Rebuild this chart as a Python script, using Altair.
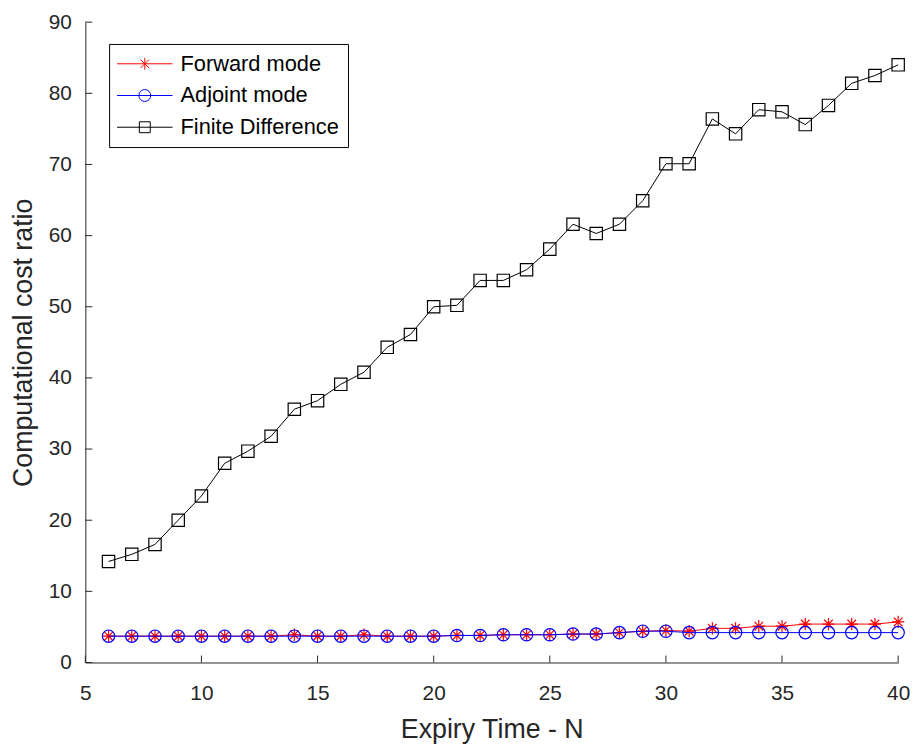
import altair as alt
import pandas as pd

# ---- data ----
N = list(range(6, 41))
forward = [3.7, 3.7, 3.7, 3.7, 3.7, 3.7, 3.7, 3.7, 3.9, 3.7,
           3.7, 3.9, 3.7, 3.7, 3.7, 3.8, 3.8, 3.9, 3.9, 3.9,
           4.0, 4.0, 4.2, 4.4, 4.5, 4.4, 4.8, 4.8, 5.1, 5.1,
           5.4, 5.4, 5.4, 5.4, 5.7]
adjoint = [3.7, 3.7, 3.7, 3.7, 3.7, 3.7, 3.7, 3.7, 3.7, 3.7,
           3.7, 3.7, 3.7, 3.7, 3.7, 3.8, 3.8, 3.9, 3.9, 3.9,
           4.0, 4.0, 4.2, 4.4, 4.4, 4.2, 4.2, 4.2, 4.2, 4.2,
           4.2, 4.2, 4.2, 4.2, 4.2]
finite = [14.2, 15.2, 16.6, 20.0, 23.4, 28.0, 29.7, 31.8, 35.6, 36.8,
          39.1, 40.8, 44.3, 46.1, 50.0, 50.2, 53.7, 53.7, 55.2, 58.1,
          61.6, 60.3, 61.6, 64.9, 70.1, 70.1, 76.4, 74.3, 77.7, 77.4,
          75.6, 78.3, 81.4, 82.5, 84.0]
series_names = ["Forward mode", "Adjoint mode", "Finite Difference"]
series_colors = ["#FF0000", "#0000FF", "#000000"]
x_ticks = [5, 10, 15, 20, 25, 30, 35, 40]
y_ticks = [0, 10, 20, 30, 40, 50, 60, 70, 80, 90]

rows = []
for name, vals in zip(series_names, [forward, adjoint, finite]):
    for n, v in zip(N, vals):
        rows.append({"N": n, "ratio": v, "series": name})
df = pd.DataFrame(rows)
xtick_df = pd.DataFrame({"N": x_ticks})
ytick_df = pd.DataFrame({"ratio": y_ticks})

# ---- style ----
W, H = 820, 646
AX = "#262626"
FONT = "Liberation Sans"

asterisk = "M-1,0L1,0M0,-1L0,1M-0.7,-0.7L0.7,0.7M-0.7,0.7L0.7,-0.7"
legend_paths = [
    "M-2.8,0L2.8,0M0,-0.6L0,0.6M-0.42,-0.42L0.42,0.42M-0.42,0.42L0.42,-0.42",
    "M-2.8,0L2.8,0M0.6,0A0.6,0.6,0,1,1,-0.6,0A0.6,0.6,0,1,1,0.6,0",
    "M-2.8,0L2.8,0M-0.55,-0.55L0.55,-0.55L0.55,0.55L-0.55,0.55Z",
]

xs = alt.Scale(domain=[5, 40], nice=False, zero=False)
ys = alt.Scale(domain=[0, 90], nice=False, zero=False)
cs = alt.Scale(domain=series_names, range=series_colors)

x_axis = alt.Axis(
    values=x_ticks, title="Expiry Time - N", ticks=False, grid=False,
    labelPadding=20, titlePadding=14, labelFontSize=21, titleFontSize=27,
    labelFlush=False)
y_axis = alt.Axis(
    values=y_ticks, title="Computational cost ratio", ticks=False, grid=False,
    labelPadding=14, titlePadding=11, labelFontSize=21, titleFontSize=27,
    labelFlush=False)
X = alt.X("N:Q", scale=xs, axis=x_axis)
Y = alt.Y("ratio:Q", scale=ys, axis=y_axis)


def series_layers(name, shape, color):
    base = alt.Chart(df).transform_filter(alt.datum.series == name)
    ln = base.mark_line(strokeWidth=1, color=color).encode(x=X, y=Y)
    pt = base.mark_point(shape=shape, filled=False, color=color, size=155,
                         strokeWidth=1.2, opacity=1).encode(x=X, y=Y)
    return [ln, pt]


layers_fwd = series_layers(series_names[0], asterisk, series_colors[0])
layers_adj = series_layers(series_names[1], "circle", series_colors[1])
layers_fd = series_layers(series_names[2], "square", series_colors[2])

legend_src = alt.Chart(df).transform_filter("datum.N < 0").mark_point(
    filled=False, strokeWidth=1, opacity=1
).encode(
    x=X, y=Y,
    color=alt.Color("series:N", scale=cs, legend=alt.Legend(title=None)),
    shape=alt.Shape("series:N",
                    scale=alt.Scale(domain=series_names, range=legend_paths),
                    legend=alt.Legend(title=None)),
)

xt = alt.Chart(xtick_df).mark_rule(color=AX, strokeWidth=1).encode(
    x=X, y=alt.value(H), y2=alt.value(H - 7),
)
yt = alt.Chart(ytick_df).mark_rule(color=AX, strokeWidth=1).encode(
    y=Y, x=alt.value(0), x2=alt.value(7),
)

chart = alt.layer(
    *layers_fwd, *layers_adj, *layers_fd, xt, yt, legend_src
).properties(
    width=W, height=H,
    autosize=alt.AutoSizeParams(type="none"),
    padding={"left": 78, "top": 11, "right": 17, "bottom": 86},
    background="white",
).configure_view(stroke=None).configure_axis(
    domainColor=AX, domainWidth=1, labelColor=AX, titleColor=AX,
    labelFont=FONT, titleFont=FONT, titleFontWeight="normal",
    labelFontWeight="normal",
).configure_legend(
    orient="none", legendX=24, legendY=22, padding=9,
    strokeColor="#000000", fillColor="#ffffff",
    labelFont=FONT, labelFontSize=22, labelColor="#000000",
    symbolSize=400, symbolStrokeWidth=1, symbolOffset=16, labelOffset=25,
    rowPadding=10,
)

chart.save("out.html", embed_options={"renderer": "svg", "actions": False})
